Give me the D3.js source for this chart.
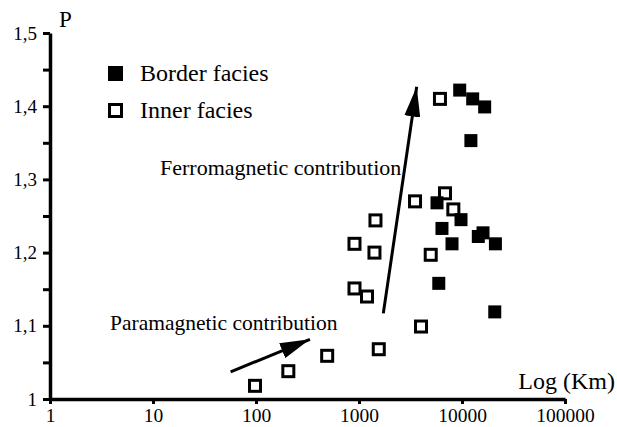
<!DOCTYPE html>
<html>
<head>
<meta charset="utf-8">
<script src="https://cdn.jsdelivr.net/npm/d3@7"></script>
<style>
  html, body { margin: 0; padding: 0; background: #fff; }
  svg { display: block; }
  text { font-family: "Liberation Serif", "Times New Roman", serif; fill: #000; }
</style>
</head>
<body>
<script>
// ---- Data ----
const borderKm = [9500, 12700, 16600, 12200, 5720, 9780, 6390, 8000, 16000, 14400, 21100, 5950, 20800];
const borderP  = [1.422, 1.410, 1.399, 1.353, 1.268, 1.245, 1.233, 1.212, 1.227, 1.222, 1.212, 1.158, 1.119];
const innerKm  = [6110, 6840, 8240, 4970, 3500, 1445, 904, 1413, 904, 1196, 4000, 1556, 491, 206, 97.8];
const innerP   = [1.410, 1.281, 1.259, 1.197, 1.270, 1.244, 1.212, 1.200, 1.151, 1.140, 1.099, 1.068, 1.059, 1.038, 1.018];
const seriesNames = ["Border facies", "Inner facies"];
const xTicks = [1, 10, 100, 1000, 10000, 100000];
const yTicks = [1, 1.1, 1.2, 1.3, 1.4, 1.5];
const yMinorTicks = [1.05, 1.15, 1.25, 1.35, 1.45];
const xLabel = "Log (Km)";
const yLabel = "P";
const annotations = [
  { text: "Ferromagnetic contribution", km: 11.7, p: 1.306, size: 22, from: [1722, 1.117], to: [3631, 1.4266] },
  { text: "Paramagnetic contribution", km: 3.83, p: 1.094, size: 21.5, from: [56.7, 1.037], to: [334, 1.0816] }
];

// ---- Layout ----
const W = 617, H = 427;
const x = d3.scaleLog().domain([1, 100000]).range([50, 565]);
const y = d3.scaleLinear().domain([1, 1.5]).range([399, 33]);

const svg = d3.select("body").append("svg").attr("width", W).attr("height", H);

svg.append("defs").append("marker")
  .attr("id", "ah").attr("viewBox", "0 0 30 16")
  .attr("refX", 30).attr("refY", 8)
  .attr("markerWidth", 30).attr("markerHeight", 16)
  .attr("markerUnits", "userSpaceOnUse")
  .attr("orient", "auto")
  .append("path").attr("d", "M0,0 L30,8 L0,16 Z").attr("fill", "#000");

// Y axis
const yAxis = d3.axisLeft(y)
  .tickValues(yTicks.concat(yMinorTicks))
  .tickFormat(d => yTicks.some(t => Math.abs(t - d) < 1e-9) ? (Math.abs(d - 1) < 1e-9 ? "1" : d3.format(".1f")(d).replace(".", ",")) : "")
  .tickSize(7).tickSizeOuter(0).tickPadding(6);
const gy = svg.append("g").attr("transform", `translate(${x(1)},0)`).call(yAxis);
gy.select(".domain").attr("stroke", "#000").attr("stroke-width", 3.5);
gy.selectAll(".tick line").attr("stroke", "#000").attr("stroke-width", 3);
gy.selectAll(".tick text").style("font-family", "Liberation Serif").style("font-size", "19px").attr("fill", "#000");

// X axis
const xAxis = d3.axisBottom(x)
  .tickValues(xTicks)
  .tickFormat(d3.format("d"))
  .tickSize(5).tickSizeOuter(0).tickPadding(4);
const gx = svg.append("g").attr("transform", `translate(0,${y(1)})`).call(xAxis);
gx.select(".domain").attr("stroke", "#000").attr("stroke-width", 3.5);
gx.selectAll(".tick line").attr("stroke", "#000").attr("stroke-width", 3);
gx.selectAll(".tick text").style("font-family", "Liberation Serif").style("font-size", "19.5px").attr("fill", "#000");

// Axis titles
svg.append("text").attr("x", 59).attr("y", 27).style("font-size", "23px").text(yLabel);
svg.append("text").attr("x", 615).attr("y", 389).attr("text-anchor", "end").style("font-size", "24px").text(xLabel);

// Annotations
annotations.forEach(a => {
  svg.append("line")
    .attr("x1", x(a.from[0])).attr("y1", y(a.from[1]))
    .attr("x2", x(a.to[0])).attr("y2", y(a.to[1]))
    .attr("stroke", "#000").attr("stroke-width", 3)
    .attr("marker-end", "url(#ah)");
  svg.append("text").attr("x", x(a.km)).attr("y", y(a.p)).style("font-size", a.size + "px").text(a.text);
});

// Points
const sq = 13;
const border = borderKm.map((k, i) => ({ k, p: borderP[i] }));
const inner = innerKm.map((k, i) => ({ k, p: innerP[i] }));

svg.append("g").selectAll("rect").data(inner).join("rect")
  .attr("x", d => x(d.k) - 5.5).attr("y", d => y(d.p) - 5.5)
  .attr("width", 11).attr("height", 11)
  .attr("fill", "#fff").attr("stroke", "#000").attr("stroke-width", 3);

svg.append("g").selectAll("rect").data(border).join("rect")
  .attr("x", d => x(d.k) - sq / 2).attr("y", d => y(d.p) - sq / 2)
  .attr("width", sq).attr("height", sq)
  .attr("fill", "#000");

// Legend
const lg = svg.append("g");
seriesNames.forEach((name, i) => {
  const cy = 73 + i * 37;
  if (i === 0) {
    lg.append("rect").attr("x", 108).attr("y", cy - 7).attr("width", 15).attr("height", 15).attr("fill", "#000");
  } else {
    lg.append("rect").attr("x", 109.5).attr("y", cy - 5.5).attr("width", 12).attr("height", 12)
      .attr("fill", "#fff").attr("stroke", "#000").attr("stroke-width", 3);
  }
  lg.append("text").attr("x", 140).attr("y", cy + 8).style("font-size", "24px").text(name);
});
</script>
</body>
</html>
